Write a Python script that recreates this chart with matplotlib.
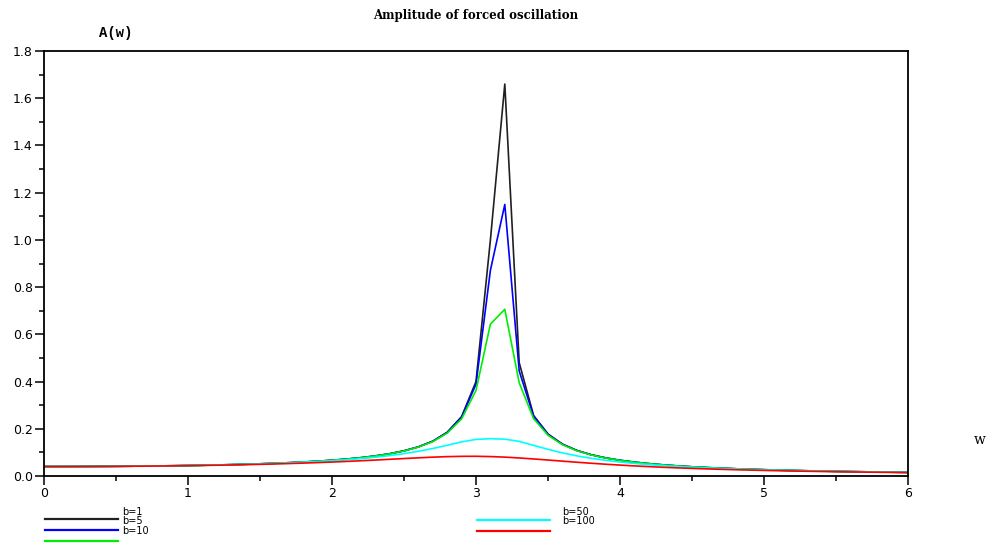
import matplotlib
matplotlib.use("Agg")
import matplotlib.pyplot as plt
from matplotlib.lines import Line2D
from matplotlib.ticker import MultipleLocator, FormatStrFormatter

w = [0.0, 0.1, 0.2, 0.3, 0.4, 0.5, 0.6, 0.7, 0.8, 0.9,
     1.0, 1.1, 1.2, 1.3, 1.4, 1.5, 1.6, 1.7, 1.8, 1.9,
     2.0, 2.1, 2.2, 2.3, 2.4, 2.5, 2.6, 2.7, 2.8, 2.9,
     3.0, 3.1, 3.2, 3.3, 3.4, 3.5, 3.6, 3.7, 3.8, 3.9,
     4.0, 4.1, 4.2, 4.3, 4.4, 4.5, 4.6, 4.7, 4.8, 4.9,
     5.0, 5.1, 5.2, 5.3, 5.4, 5.5, 5.6, 5.7, 5.8, 5.9, 6.0]

a_b1 = [0.0400, 0.0400, 0.0402, 0.0404, 0.0407, 0.0410, 0.0415, 0.0421, 0.0427, 0.0435,
        0.0444, 0.0455, 0.0467, 0.0481, 0.0498, 0.0516, 0.0538, 0.0563, 0.0592, 0.0626,
        0.0667, 0.0716, 0.0775, 0.0849, 0.0943, 0.1067, 0.1235, 0.1476, 0.1852, 0.2515,
        0.4000, 1.000, 1.660, 0.480, 0.2564, 0.1778, 0.1351, 0.1084, 0.0901, 0.0768,
        0.0667, 0.0587, 0.0524, 0.0471, 0.0427, 0.0390, 0.0358, 0.0331, 0.0307, 0.0286,
        0.0267, 0.0250, 0.0235, 0.0221, 0.0209, 0.0198, 0.0187, 0.0178, 0.0169, 0.0161, 0.0154]

a_b5 = [0.0400, 0.0400, 0.0402, 0.0404, 0.0407, 0.0410, 0.0415, 0.0421, 0.0427, 0.0435,
        0.0444, 0.0455, 0.0467, 0.0481, 0.0498, 0.0516, 0.0538, 0.0563, 0.0592, 0.0626,
        0.0667, 0.0716, 0.0775, 0.0848, 0.0942, 0.1065, 0.1232, 0.1472, 0.1842, 0.249,
        0.389, 0.871, 1.150, 0.445, 0.253, 0.1765, 0.1345, 0.1081, 0.0899, 0.0767,
        0.0666, 0.0587, 0.0523, 0.0471, 0.0427, 0.0390, 0.0358, 0.0331, 0.0307, 0.0286,
        0.0267, 0.0250, 0.0235, 0.0221, 0.0209, 0.0198, 0.0187, 0.0178, 0.0169, 0.0161, 0.0154]

a_b10 = [0.0400, 0.0400, 0.0402, 0.0404, 0.0407, 0.0410, 0.0415, 0.0421, 0.0427, 0.0435,
         0.0444, 0.0455, 0.0467, 0.0481, 0.0497, 0.0516, 0.0537, 0.0562, 0.0591, 0.0625,
         0.0666, 0.0714, 0.0773, 0.0847, 0.0940, 0.1061, 0.1225, 0.1458, 0.1815, 0.2419,
         0.3622, 0.6432, 0.7060, 0.3950, 0.2427, 0.1727, 0.1328, 0.1071, 0.0893, 0.0763,
         0.0663, 0.0585, 0.0522, 0.0470, 0.0426, 0.0389, 0.0358, 0.0330, 0.0306, 0.0285,
         0.0266, 0.0250, 0.0234, 0.0221, 0.0209, 0.0197, 0.0187, 0.0178, 0.0169, 0.0161, 0.0154]

a_b50 = [0.0400, 0.0400, 0.0402, 0.0404, 0.0406, 0.0410, 0.0415, 0.0420, 0.0426, 0.0434,
         0.0443, 0.0453, 0.0465, 0.0478, 0.0493, 0.0510, 0.0530, 0.0553, 0.0579, 0.0610,
         0.0645, 0.0687, 0.0735, 0.0794, 0.0863, 0.0946, 0.1046, 0.1165, 0.1301, 0.1445,
         0.1550, 0.1580, 0.1560, 0.1467, 0.1298, 0.1130, 0.0980, 0.0853, 0.0749, 0.0663,
         0.0591, 0.0531, 0.0481, 0.0438, 0.0401, 0.0369, 0.0341, 0.0317, 0.0295, 0.0275,
         0.0258, 0.0243, 0.0228, 0.0216, 0.0204, 0.0193, 0.0183, 0.0174, 0.0166, 0.0159, 0.0151]

a_b100 = [0.0400, 0.0400, 0.0401, 0.0403, 0.0406, 0.0409, 0.0413, 0.0418, 0.0424, 0.0430,
          0.0438, 0.0447, 0.0457, 0.0468, 0.0480, 0.0494, 0.0510, 0.0527, 0.0546, 0.0568,
          0.0591, 0.0617, 0.0645, 0.0675, 0.0707, 0.0739, 0.0770, 0.0798, 0.0820, 0.0833,
          0.0835, 0.0823, 0.0799, 0.0764, 0.0722, 0.0676, 0.0629, 0.0583, 0.0540, 0.0499,
          0.0462, 0.0428, 0.0397, 0.0369, 0.0344, 0.0322, 0.0301, 0.0283, 0.0266, 0.0251,
          0.0237, 0.0224, 0.0212, 0.0201, 0.0191, 0.0182, 0.0173, 0.0165, 0.0158, 0.0151, 0.0145]

labels = ["b=1", "b=5", "b=10", "b=50", "b=100"]
colors = ["#202020", "#0000ff", "#00ee00", "#00ffff", "#ff0000"]
series = [a_b1, a_b5, a_b10, a_b50, a_b100]

fig = plt.figure(figsize=(9.86, 5.43), dpi=100)
ax = fig.add_axes([44/986, 1-476/543, (908-44)/986, (476-51)/543])

for ys, c in zip(series, colors):
    ax.plot(w, ys, color=c, lw=1.2)

ax.set_xlim(0, 6)
ax.set_ylim(0, 1.8)
ax.xaxis.set_major_locator(MultipleLocator(1))
ax.xaxis.set_minor_locator(MultipleLocator(0.5))
ax.yaxis.set_major_locator(MultipleLocator(0.2))
ax.yaxis.set_minor_locator(MultipleLocator(0.1))
ax.yaxis.set_major_formatter(FormatStrFormatter("%.1f"))
ax.tick_params(which="major", direction="out", length=6.5, width=1.1, labelsize=9, pad=1.5)
ax.tick_params(which="minor", direction="out", length=3.6, width=1.1)
for s in ax.spines.values():
    s.set_linewidth(1.3)

fig.text(476/986, 1-15/543, "Amplitude of forced oscillation", ha="center", va="center",
         fontsize=8.5, family="DejaVu Serif", weight="bold")
fig.text(116/986, 1-33/543, "A(w)", ha="center", va="center", fontsize=10,
         family="Liberation Mono", weight="bold")
fig.text(980/986, 1-440/543, "w", ha="center", va="center", fontsize=10, family="DejaVu Serif")

# legend (drawn as in the reference: lines with offset, tightly packed labels)
leg_pos = [(45, 118, 519, 122, 512), (45, 118, 530, 122, 521), (45, 118, 541, 122, 531),
           (477, 550, 520, 562, 512), (477, 550, 531, 562, 521)]
for (x0, x1, yl, xt, yt), c, lab in zip(leg_pos, colors, labels):
    fig.add_artist(Line2D([x0/986, x1/986], [1-yl/543, 1-yl/543], color=c, lw=1.6))
    fig.text(xt/986, 1-yt/543, lab, ha="left", va="center", fontsize=7)

fig.savefig("out.png", dpi=100)
